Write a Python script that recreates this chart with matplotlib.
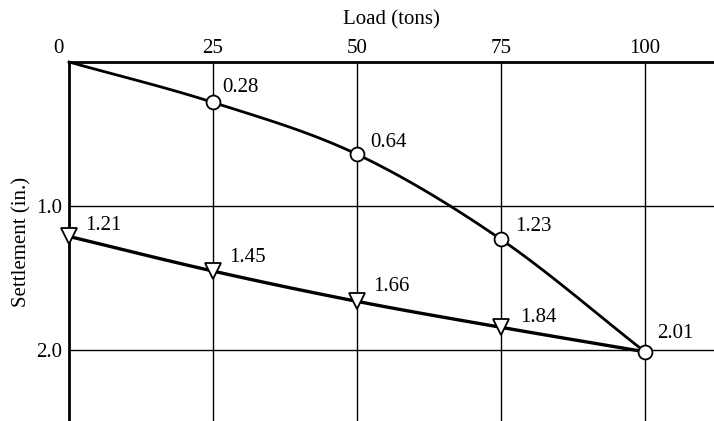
import numpy as np
import matplotlib
matplotlib.use("Agg")
import matplotlib.pyplot as plt
import matplotlib.transforms as mtransforms

loads = [0, 25, 50, 75, 100]
loading = [0.0, 0.28, 0.64, 1.23, 2.01]
unload_loads = [0, 25, 50, 75, 100]
unloading = [1.21, 1.45, 1.66, 1.84, 2.01]
loading_labels = ["", "0.28", "0.64", "1.23", "2.01"]
unloading_labels = ["1.21", "1.45", "1.66", "1.84", ""]
x_ticks = [0, 25, 50, 75, 100]
y_ticks = [1.0, 2.0]

# label offsets in pixels (layout only)
loading_offsets = [(0, 0), (9, 15), (13, 12), (14, 13), (12, 18)]
unloading_offsets = [(16, 11), (16, 14), (16, 15), (19, 10), (0, 0)]

plt.rcParams['font.family'] = ['Liberation Serif', 'DejaVu Serif']
FS = 15


def smooth(xs, ys, n=30):
    """Catmull-Rom curve for drawing a smooth line through the points."""
    xs = np.asarray(xs, float); ys = np.asarray(ys, float)
    px = np.concatenate([[2*xs[0]-xs[1]], xs, [2*xs[-1]-xs[-2]]])
    py = np.concatenate([[2*ys[0]-ys[1]], ys, [2*ys[-1]-ys[-2]]])
    ox, oy = [], []
    t = np.linspace(0, 1, n)
    for i in range(1, len(px)-2):
        for arr, out in ((px, ox), (py, oy)):
            p0, p1, p2, p3 = arr[i-1], arr[i], arr[i+1], arr[i+2]
            out.extend(0.5*((2*p1) + (-p0+p2)*t + (2*p0-5*p1+4*p2-p3)*t**2 + (-p0+3*p1-3*p2+p3)*t**3))
    return np.array(ox), np.array(oy)


fig = plt.figure(figsize=(7.14, 4.21), dpi=100)
ax = fig.add_axes([69/714, 0.0, 1 - 69/714, (421-62)/421])
ax.set_xlim(0, 112)
ax.set_ylim(2.49, 0)

for x in x_ticks[1:]:
    ax.axvline(x, color='black', lw=1.0, zorder=1)
for y in y_ticks:
    ax.axhline(y, color='black', lw=1.0, zorder=1)

sx, sy = smooth(loads, loading)
ax.plot(sx, sy, color='black', lw=2.0, zorder=2, clip_on=False)
ax.plot(loads[1:], loading[1:], 'o', ms=10, mfc='white', mec='black', mew=1.3, zorder=3, clip_on=False)

ux, uy = smooth(unload_loads, unloading)
ax.plot(ux, uy, color='black', lw=2.4, zorder=2, clip_on=False)
ax.plot(unload_loads[:-1], unloading[:-1], 'v', ms=11, mfc='white', mec='black', mew=1.3, zorder=3, clip_on=False)

for x, y, s, off in zip(loads, loading, loading_labels, loading_offsets):
    if s:
        ax.annotate(s, (x, y), xytext=off, textcoords='offset pixels',
                    fontsize=FS, ha='left', va='center')
for x, y, s, off in zip(unload_loads, unloading, unloading_labels, unloading_offsets):
    if s:
        ax.annotate(s, (x, y), xytext=off, textcoords='offset pixels',
                    fontsize=FS, ha='left', va='center')

ax.xaxis.set_ticks_position('top')
ax.xaxis.set_label_position('top')
ax.set_xticks(x_ticks)
ax.set_xticklabels([str(v) for v in x_ticks], fontsize=FS)
ax.set_yticks(y_ticks)
ax.set_yticklabels(["1.0", "2.0"], fontsize=FS)
ax.tick_params(axis='x', length=0, pad=3)
ax.tick_params(axis='y', length=0, pad=5)
# shift the "0" label left as in the reference
lbl0 = ax.get_xticklabels()[0]
lbl0.set_transform(lbl0.get_transform() + mtransforms.ScaledTranslation(-11/100, 0, fig.dpi_scale_trans))
ax.set_xlabel("Load (tons)", fontsize=FS, labelpad=10)
ax.set_ylabel("Settlement (in.)", fontsize=FS, labelpad=3)
for side in ('right', 'bottom'):
    ax.spines[side].set_visible(False)
for side in ('top', 'left'):
    ax.spines[side].set_linewidth(2.0)
ax.set_facecolor('white')

fig.savefig("out.png", dpi=100)
